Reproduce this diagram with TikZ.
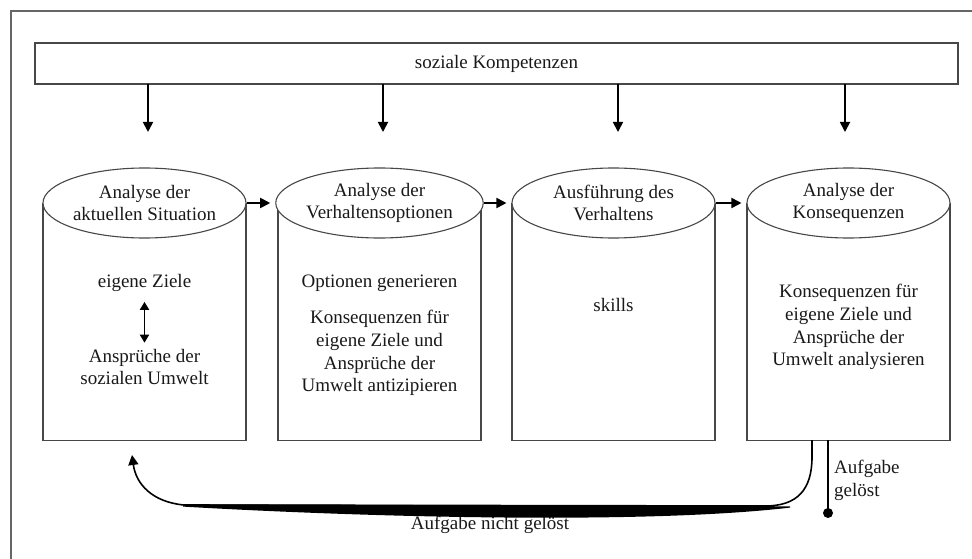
\documentclass[tikz,border=0pt]{standalone}
\usepackage{fontspec}
\setmainfont{Liberation Serif}
\usetikzlibrary{arrows.meta,shapes.geometric}
\tikzset{
  bigtip/.tip={Triangle[length=10pt,width=10pt]},
  smalltip/.tip={Triangle[length=8pt,width=9pt]},
}
\begin{document}
\begin{tikzpicture}[x=1pt,y=-1pt,
  frameline/.style={draw=black!60, line width=1.1pt},
  boxline/.style={draw=black!72, line width=1.1pt},
  body/.style={boxline, fill=white, minimum width=203pt, minimum height=237pt,
    inner sep=0pt, anchor=north},
  lid/.style={ellipse, boxline, fill=white, minimum width=203pt,
    minimum height=70pt, inner sep=0pt},
  txt/.style={font=\fontsize{19}{22.8}\selectfont, text=black!90, align=center,
    inner sep=0pt},
  flow/.style={-bigtip, line width=1.8pt},
  loopline/.style={line width=1.6pt},
]
\useasboundingbox (0,0) rectangle (972,559);

% page frame (top and left edges)
\draw[frameline] (11,559) -- (11,11) -- (972,11);

% competences bar
\node[boxline, minimum width=923pt, minimum height=41pt, inner sep=0pt,
  txt] (komp) at (496.5,63.5) {soziale Kompetenzen};

% four cylinders: body + elliptic lid
\foreach \n/\x in {1/144.5,2/379.5,3/613.5,4/848.5}{
  \node[body] (b\n) at (\x,203) {};
}
\node[lid, txt] (l1) at (144.5,203) {Analyse der\\aktuellen Situation};
\node[lid, txt] (l2) at (379.5,203) {Analyse der\\Verhaltensoptionen};
\node[lid, txt] (l3) at (613.5,203) {Ausführung des\\Verhaltens};
\node[lid, txt] (l4) at (848.5,203) {Analyse der\\Konsequenzen};

% influence of social competences
\foreach \n/\x in {1/148,2/383,3/618,4/845}{
  \coordinate (top\n) at (\x,84);
  \coordinate (tip\n) at (\x,132);
  \draw[flow] (top\n) -- (tip\n);
}

% process arrows
\draw[flow, shorten >=5pt] (l1.east) -- (l2.west);
\draw[flow, shorten >=5pt] (l2.east) -- (l3.west);
\draw[flow, shorten >=5pt] (l3.east) -- (l4.west);

% contents
\node[txt] (z1) at (144.5,283) {eigene Ziele};
\node[txt] (a1) at (144.5,367) {Ansprüche der\\sozialen Umwelt};
\draw[smalltip-smalltip, line width=1.8pt,
  shorten <=10pt, shorten >=6pt] (z1.south) -- (a1.north);

\node[txt] (o2) at (379.5,283) {Optionen generieren};
\node[txt] (k2) at (379.5,353) {Konsequenzen für\\eigene Ziele und\\Ansprüche der\\Umwelt antizipieren};

\node[txt] (s3) at (613.5,305) {skills};

\node[txt] (k4) at (848.5,327) {Konsequenzen für\\eigene Ziele und\\Ansprüche der\\Umwelt analysieren};

% feedback loop: task not solved
\node[txt, anchor=center] (ng) at (490,525) {Aufgabe nicht gelöst};
\coordinate (ls) at (812,440);
\coordinate (le) at (132,455);
\draw[loopline] (ls) -- (812,457) .. controls (812,490) and (797,506) .. (765,506)
  -- (183,505);
\fill (790,506.3) -- (183,504.2) -- (183,506.6)
  .. controls (380,518) and (650,524) .. (790,507.6) -- cycle;
\draw[loopline, -bigtip] (184,505)
  .. controls (152,502) and (136,484) .. (le);

% task solved
\coordinate (gs) at (828,440);
\coordinate (ge) at (828,513);
\draw[loopline] (gs) -- (ge);
\fill (ge) circle (5);
\node[txt, align=left, anchor=west] (gl) at (834,480) {Aufgabe\\gelöst};
\end{tikzpicture}
\end{document}
